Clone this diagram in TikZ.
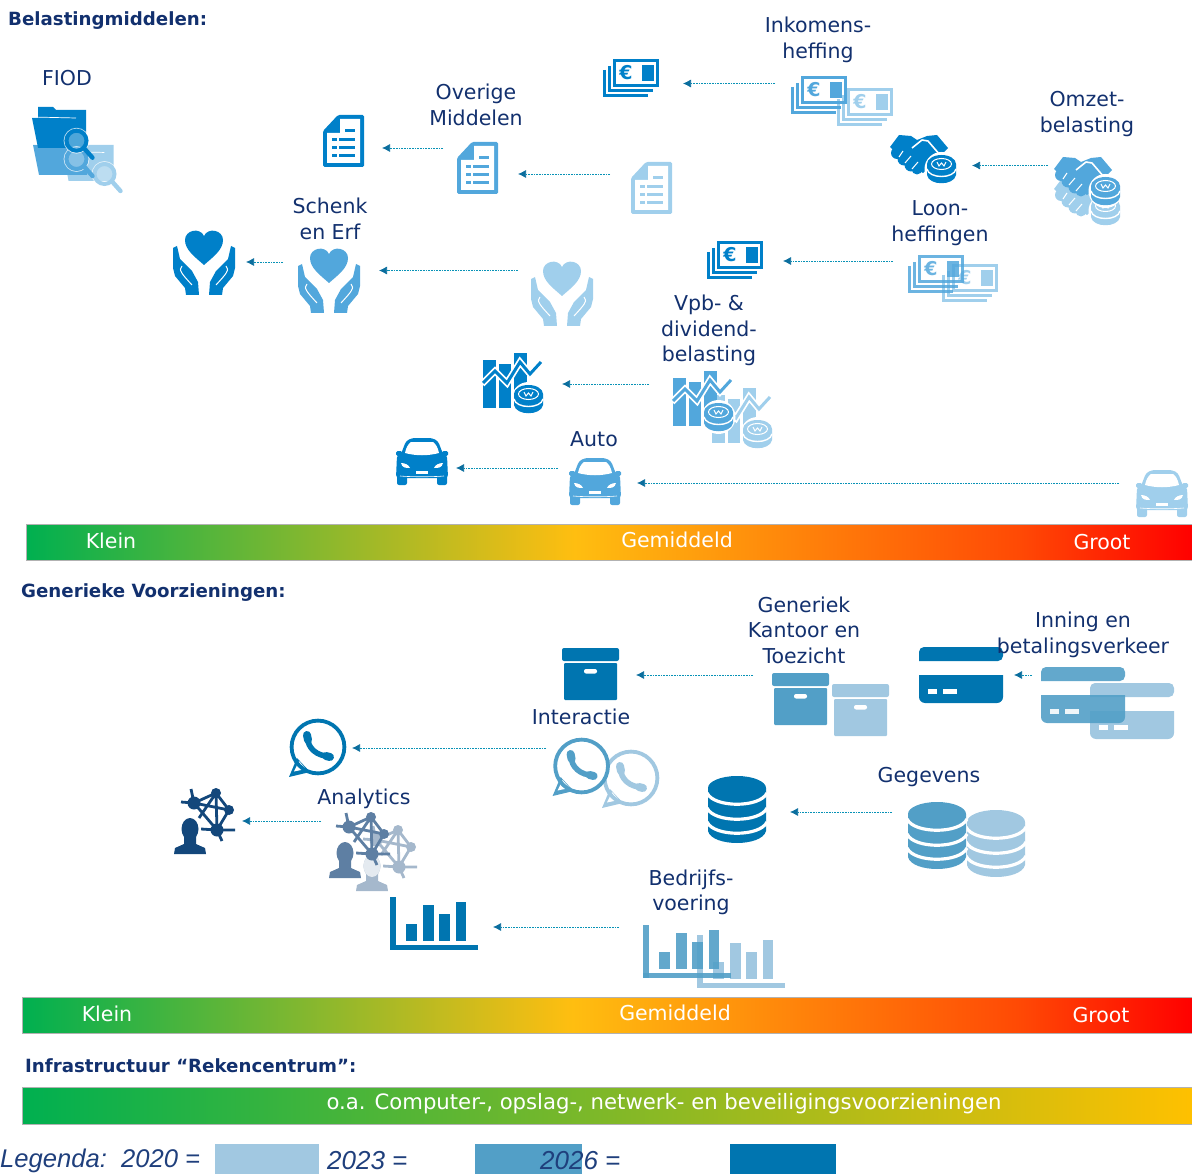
\documentclass[tikz,border=0pt]{standalone}
\usepackage{fontspec}
\setmainfont{DejaVu Sans}
\newfontfamily\legendfont{Liberation Sans}
\usetikzlibrary{arrows.meta}

\definecolor{navy}{HTML}{12306E}
\definecolor{legendblue}{HTML}{1F3F7C}
\definecolor{flowblue}{HTML}{0B6E9E}
% top part
\definecolor{topdark}{HTML}{0080C9}
\definecolor{topmid}{HTML}{52A7DC}
\definecolor{toplight}{HTML}{A0CFEC}
% bottom part
\definecolor{botdark}{HTML}{0075B0}
\definecolor{botmid}{HTML}{529FC7}
\definecolor{botlight}{HTML}{A1C8E1}
\definecolor{netdark}{HTML}{13477B}
\definecolor{netmid}{HTML}{5E7FA3}
\definecolor{netlight}{HTML}{A5B8CC}

\definecolor{barA}{HTML}{00B050}
\definecolor{barB}{HTML}{FFBE10}
\definecolor{barC}{HTML}{FF4A05}
\definecolor{barD}{HTML}{FF0000}
\definecolor{barE}{HTML}{FFC000}
\pgfdeclarehorizontalshading{scalebar}{100bp}{color(0bp)=(barA); color(25bp)=(barA); color(48.5bp)=(barB); color(67.5bp)=(barC); color(75bp)=(barD); color(100bp)=(barD)}
\pgfdeclarehorizontalshading{infrabar}{100bp}{color(0bp)=(barA); color(25bp)=(barA); color(75bp)=(barE); color(100bp)=(barE)}

\tikzset{
    lbl/.style={text=navy,align=center,inner sep=0pt,font=\fontsize{20.5}{25.5}\selectfont},
    headlbl/.style={text=navy,anchor=west,inner sep=0pt,font=\bfseries\fontsize{18.2}{21}\selectfont},
    barlbl/.style={text=white,inner sep=0pt,font=\fontsize{20.5}{25}\selectfont},
    legendlbl/.style={text=legendblue,anchor=west,inner sep=0pt,font=\legendfont\itshape\fontsize{26}{30}\selectfont},
    flow/.style={flowblue!75!cyan,line width=.7pt,dash pattern=on .9pt off .7pt,-{Latex[length=8pt,width=8pt,flowblue]}},
    barframe/.style={draw=black!30,line width=.8pt},
    pics/money/.style={code={
        \draw[#1,line width=2.8] (1.4,11) -- (1.4,36.6) -- (45,36.6);
        \draw[#1,line width=2.8] (6.4,7) -- (6.4,31.6) -- (50,31.6);
        \draw[#1,line width=2.8] (11.5,1.4) rectangle (54.6,26.6);
        \fill[#1] (38.5,6) rectangle (50.5,22);
        \node[text=#1,inner sep=0pt,font=\bfseries\fontsize{19}{19}\selectfont] (euro) at (23,14) {€};
    }},
    pics/coin/.style={code={
        \fill[white] (14.5,14) circle[x radius=17,y radius=17];
        \fill[#1] (0,9) -- (0,20) .. controls (2,31) and (27,31) .. (29,20) -- (29,9) -- cycle;
        \fill[#1] (14.5,9) circle[x radius=14.5,y radius=9];
        \draw[white,line width=1.4] (0,14) .. controls (2,24) and (27,24) .. (29,14);
        \draw[white,line width=1] (14.5,9) circle[x radius=10,y radius=5.5];
        \draw[white,line width=1] (10,7) -- (12,11) -- (14.5,8) -- (17,11) -- (19,7);
    }},
    pics/shake/.style={code={
        \fill[#1] (0,12) -- (9,0) -- (21,1) -- (27,5) -- (37,1) -- (47,0) -- (58,13) -- (50,21) -- (44,27) -- (33,38) -- (20,30) -- (6,18) -- cycle;
        \draw[white,line width=1.6,line join=round] (22,13) -- (32,5) -- (38,6) -- (50,20);
        \fill[#1] (7,18) circle[radius=6] (14,24) circle[radius=6.5] (21,30) circle[radius=6.5] (27,34) circle[radius=5.5];
        \draw[white,line width=1] (13,16) -- (9,22) (21,21) -- (15,28) (28,27) -- (22,34);
        \pic at (37,20) {coin=#1};
    }},
    pics/paper/.style={code={
        \fill[#1,rounded corners=1.5] (0,16) -- (15,0) -- (41,0) -- (41,52) -- (0,52) -- cycle;
        \fill[white] (4,18) -- (17,18) -- (17,4) -- (37,4) -- (37,48) -- (4,48) -- cycle;
        \fill[#1] (22,14) rectangle (32,17);
        \foreach \yy in {23,31,39}{%
            \fill[#1] (9,\yy) rectangle (14,\yy+3.5);
            \fill[#1] (16,\yy) rectangle (32,\yy+3.5);}
    }},
    pics/hearthands/.style={code={
        \fill[#1] (31,35) .. controls (22,27) and (12,20) .. (12,10) .. controls (12,0) and (27,-3) .. (31,6) .. controls (35,-3) and (50,0) .. (50,10) .. controls (50,20) and (40,27) .. (31,35) -- cycle;
        \foreach \sgn/\off in {1/0,-1/62}{%
            \begin{scope}[xshift=\off,xscale=\sgn]
            \fill[#1] (0,18) -- (4,16) -- (7,29) -- (19,41) -- (25,52) -- (26,65) -- (13,65) -- (12,58) -- (2,46) -- (0,38) -- cycle;
            \draw[white,line width=1] (9,36) .. controls (5,40) and (9,44) .. (19,55);
            \end{scope}}
    }},
    pics/chartcoin/.style={code={
        \fill[#1] (0,7) rectangle (13,55);
        \fill[#1] (16,11) rectangle (28,55);
        \fill[#1] (31,0) rectangle (44,55);
        \draw[white,line width=6.5,line join=miter] (-1,31) -- (12,18) -- (24,30) -- (37,9) -- (47,21) -- (58,9);
        \draw[#1,line width=3,line join=miter] (0,30) -- (12,18) -- (24,30) -- (37,9) -- (47,21) -- (58,9);
        \pic at (31,32) {coin=#1};
    }},
    pics/car/.style={code={
        \fill[#1,rounded corners=3] (5,16) -- (10,3) -- (16,0) -- (36,0) -- (42,3) -- (47,16) -- (51,17) -- (52,40) -- (0,40) -- (1,17) -- cycle;
        \fill[#1,rounded corners=2] (1,36) rectangle (11,47);
        \fill[#1,rounded corners=2] (41,36) rectangle (51,47);
        \fill[#1,rounded corners=1.5] (0,13) rectangle (6,18);
        \fill[#1,rounded corners=1.5] (46,13) rectangle (52,18);
        \fill[white] (9,15) .. controls (10,10) and (12,6) .. (15,4) -- (37,4) .. controls (40,6) and (42,10) .. (43,15) .. controls (32,18) and (20,18) .. (9,15) -- cycle;
        \fill[white] (5,25) .. controls (9,25) and (13,27) .. (14,30) .. controls (10,30) and (6,30) .. (5,25) -- cycle;
        \fill[white] (47,25) .. controls (43,25) and (39,27) .. (38,30) .. controls (42,30) and (46,30) .. (47,25) -- cycle;
        \fill[white] (20,32.5) rectangle (32,35.5);
        \draw[white,line width=.6] (4,38) .. controls (15,39) and (37,39) .. (48,38);
    }},
    pics/folder/.style={code={
        \fill[#1] (7,0) -- (22,0) -- (25,3) -- (55,3) -- (55,41) -- (7,41) -- (1,11) -- (7,11) -- cycle;
        \draw[white,line width=.7] (1,10) -- (45,11);
    }},
    pics/lens/.style={code={
        \fill[white,fill opacity=.3] (0,0) circle[radius=9];
        \draw[white,line width=1,opacity=.7] (0,0) circle[radius=12.4];
        \draw[#1,line width=4] (0,0) circle[radius=10];
        \draw[#1,line width=4.4,line cap=round] (8,8) -- (16,17);
    }},
    pics/archive/.style={code={
        \fill[#1,rounded corners=2] (0,0) rectangle (57,13);
        \fill[#1,rounded corners=1] (2,15) rectangle (55,52);
        \fill[white,rounded corners=2] (22,21) rectangle (35,25.5);
    }},
    pics/card/.style={code={
        \fill[#1,rounded corners=5] (0,14) -- (0,0) -- (84,0) -- (84,14) [sharp corners] -- cycle;
        \fill[#1] (0,28) -- (84,28) [rounded corners=6] -- (84,56) -- (0,56) [sharp corners] -- cycle;
        \fill[white] (9,42) rectangle (18,47);
        \fill[white] (24,42) rectangle (38,47);
    }},
    pics/talk/.style={code={
        \fill[white] (0,0) circle[radius=27];
        \fill[#1] (-29,30) -- (-21,11) -- (-8,25) -- cycle;
        \fill[white] (-24,24.5) -- (-19,14) -- (-12,22) -- cycle;
        \draw[#1,line width=3.8] (0,0) circle[radius=26.4];
        \draw[#1,line width=5.5,line cap=round] (-10,-9) .. controls (-11,0) and (-1,10) .. (12,9);
        \draw[#1,line width=8,line cap=round] (-11,-12) -- (-10,-7);
        \draw[#1,line width=8,line cap=round] (8,9) -- (12,10);
    }},
    pics/network/.style={code={
        \draw[#1,line width=2.8] (20,15) -- (7,14) (20,15) -- (17,1) (20,15) -- (42,5) -- (55,22) -- (20,15) -- (43,42) -- (55,22) (42,5) -- (25,30) (42,5) -- (43,42) (43,42) -- (61,42) (43,42) -- (48,53) (43,42) -- (27,41);
        \fill[#1] (20,15) circle[radius=6.5] (42,5) circle[radius=5] (55,22) circle[radius=5] (43,42) circle[radius=6.5];
        \fill[white] (16,41) circle[x radius=11,y radius=14];
        \fill[#1] (16,41) circle[x radius=8.5,y radius=11];
        \fill[#1] (0,66) -- (1,60) -- (10,56) -- (10,48) -- (22,48) -- (22,56) -- (31,60) -- (32,66) -- cycle;
    }},
    pics/database/.style={code={
        \fill[#1] (0,12) -- (0,55) .. controls (4,71) and (54,71) .. (58,55) -- (58,12) -- cycle;
        \fill[#1] (29,12) circle[x radius=29,y radius=12];
        \foreach \yy in {17,32,46}{%
            \draw[white,line width=3.2] (-1,\yy) .. controls (6,\yy+15) and (52,\yy+15) .. (59,\yy);}
    }},
    pics/barchart/.style={code={
        \fill[#1] (0,0) rectangle (5.5,53);
        \fill[#1] (0,48) rectangle (88,53);
        \fill[#1] (16,27) rectangle (27,44);
        \fill[#1] (33,8) rectangle (44,44);
        \fill[#1] (49,17) rectangle (60,44);
        \fill[#1] (66,5) rectangle (76,44);
    }},
}

\begin{document}
\begin{tikzpicture}[x=1pt,y=-1pt]
    \useasboundingbox (0,0) rectangle (1192,1174);

    % headings
    \node [headlbl] (belasting) at (8,21) {Belastingmiddelen:};
    \node [headlbl] (generiek) at (21,593) {Generieke Voorzieningen:};
    \node [headlbl] (infra) at (25,1065.5) {Infrastructuur “Rekencentrum”:};

    % scales
    \shade [shading=scalebar,barframe] (26,524) rectangle (1193,560);
    \shade [shading=scalebar,barframe] (22,997) rectangle (1193,1033);
    \shade [shading=infrabar,barframe] (22,1087) rectangle (1193,1124);
    \node [barlbl] (klein1) at (111,541) {Klein};
    \node [barlbl] (midden1) at (677,540) {Gemiddeld};
    \node [barlbl] (groot1) at (1102,542) {Groot};
    \node [barlbl] (klein2) at (107,1014) {Klein};
    \node [barlbl] (midden2) at (675,1013) {Gemiddeld};
    \node [barlbl] (groot2) at (1101,1015) {Groot};
    \node [barlbl,font=\fontsize{21.2}{25}\selectfont] (infratext) at (664,1104) {o.a. Computer-, opslag-, netwerk- en beveiligingsvoorzieningen};

    % FIOD
    \pic at (62,142) [xscale=.94,yscale=.95] {folder=toplight};
    \pic at (32,134) {folder=topmid};
    \pic at (31,107) {folder=topdark};
    \pic at (104.5,174) {lens=toplight};
    \pic at (76.5,159) {lens=topmid};
    \pic at (76.5,140.7) {lens=topdark};
    \node [lbl] (fiod) at (67,78) {FIOD};

    % Belastingmiddelen
    \pic at (603,59) {money=topdark};
    \pic at (837,88) {money=toplight};
    \pic at (791,76) {money=topmid};
    \node [lbl] (inkomens) at (818,40) {Inkomens-\\heffing};

    \pic at (1054,177) {shake=toplight};
    \pic at (1054,157) {shake=topmid};
    \pic at (890,135) {shake=topdark};
    \node [lbl] (omzet) at (1087,114) {Omzet-\\belasting};

    \pic at (323,115) {paper=topdark};
    \pic at (457,142) {paper=topmid};
    \pic at (631,162) {paper=toplight};
    \node [lbl] (overige) at (476,105) {Overige\\Middelen};

    \pic at (173,230) {hearthands=topdark};
    \pic at (298,248) {hearthands=topmid};
    \pic at (531,261) {hearthands=toplight};
    \node [lbl] (schenk) at (330,219) {Schenk\\en Erf};

    \pic at (707,241) {money=topdark};
    \pic at (942,264) {money=toplight};
    \pic[opacity=.85] at (908,255) {money=topmid};
    \node [lbl] (loon) at (940,223) {Loon-\\heffingen};

    \pic at (483,353) {chartcoin=topdark};
    \pic at (712,388) {chartcoin=toplight};
    \pic at (673,371) {chartcoin=topmid};
    \node [lbl] (vpb) at (709,330.5) {Vpb- \&\\dividend-\\belasting};

    \pic at (396,438) {car=topdark};
    \pic at (569,458) {car=topmid};
    \pic at (1136,470) {car=toplight};
    \node [lbl] (auto) at (594,439) {Auto};

    % Generieke Voorzieningen
    \pic at (562,648) {archive=botdark};
    \pic at (832,684) {archive=botlight};
    \pic at (772,673) {archive=botmid};
    \node [lbl] (kantoor) at (804,630) {Generiek\\Kantoor en\\Toezicht};

    \pic at (919,647) {card=botdark};
    \pic at (1090,683) {card=botlight};
    \pic[opacity=.9] at (1041,667) {card=botmid};
    \node [lbl] (inning) at (1083,635) {Inning en\\betalingsverkeer};

    \pic at (318,747) {talk=botdark};
    \pic at (631,778) {talk=botlight};
    \pic at (581.6,766) {talk=botmid};
    \node [lbl] (interactie) at (581,717) {Interactie};

    \pic at (708,776) {database=botdark};
    \pic at (967,810) {database=botlight};
    \pic at (908,802) {database=botmid};
    \node [lbl] (gegevens) at (929,777) {Gegevens};

    \pic at (174,788) {network=netdark};
    \pic at (356,825) {network=netlight};
    \fill [netlight!30] (372,866) circle [x radius=8.5,y radius=11];
    \pic at (329,812) {network=netmid};
    \node [lbl] (analytics) at (364,799) {Analytics};

    \pic at (390,897) {barchart=botdark};
    \pic at (697,935) {barchart=botlight};
    \pic[opacity=.9] at (643,925) {barchart=botmid};
    \node [lbl] (bedrijf) at (691,892.5) {Bedrijfs-\\voering};

    % flows between the years
    \foreach \naam/\xa/\xb/\yy in {ink/775/683/83.5,omz/1048/972/165.5,ovb/443/382/148,ova/610/518/174,
        sea/283/246/262,seb/518/379/270.5,lon/893/783/261,vpbf/649/562/384,aua/558/456/468,aub/1119/637/483,
        kan/753/636/675,inn/1032/1014/675,act/546/352/748,geg/892/790/812,ana/321/242/821,bvo/619/493/927}{%
        \coordinate (\naam a) at (\xa,\yy);
        \coordinate (\naam b) at (\xb,\yy);
        \draw [flow] (\naam a) -- (\naam b);}

    % legend
    \fill [botlight] (215,1144) rectangle (319,1175);
    \fill [botmid] (475,1144) rectangle (582,1175);
    \fill [botdark] (730,1144) rectangle (836,1175);
    \node [legendlbl,font=\legendfont\itshape\fontsize{25.6}{30}\selectfont] (legenda) at (0,1161) {Legenda:\ \ 2020 =};
    \node [legendlbl] (jaar2023) at (327,1161) {2023 =};
    \node [legendlbl] (jaar2026) at (540,1161) {2026 =};
\end{tikzpicture}
\end{document}
